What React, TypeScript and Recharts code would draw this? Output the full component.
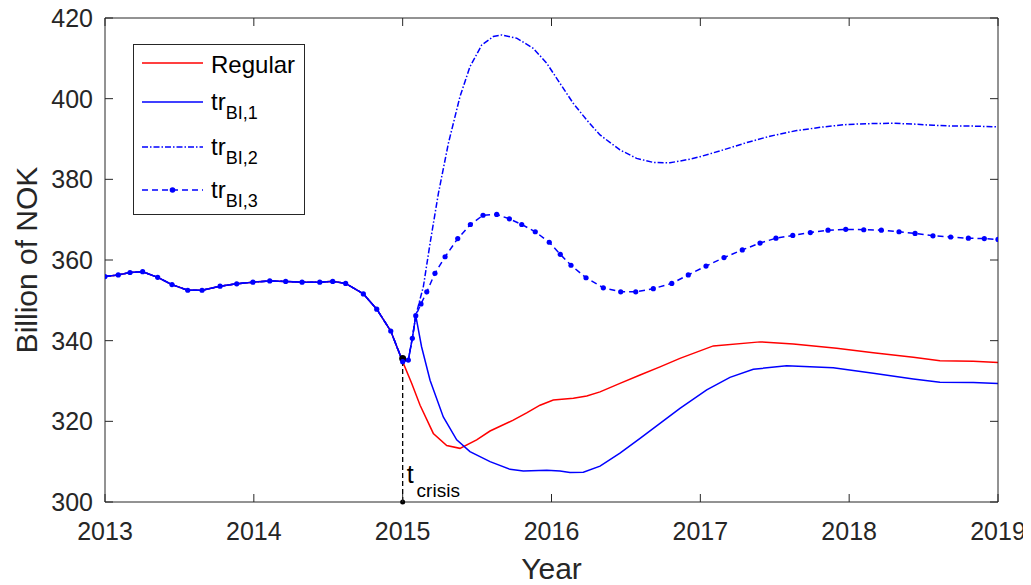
import React from 'react';
import { LineChart, Line, XAxis, YAxis, ReferenceLine, ReferenceDot, Legend } from 'recharts';

// Значения: общий участок до кризиса, затем отдельные ветки

const preYears = [2013.0, 2013.089, 2013.168, 2013.253, 2013.354, 2013.45, 2013.556, 2013.652, 2013.773, 2013.885, 2013.994, 2014.107, 2014.214, 2014.324, 2014.443, 2014.53, 2014.617, 2014.736, 2014.826, 2014.92, 2015.0];
const preValues = [355.9, 356.3, 356.9, 357.1, 355.7, 353.9, 352.5, 352.5, 353.5, 354.1, 354.5, 354.8, 354.7, 354.5, 354.5, 354.7, 354.2, 351.6, 347.8, 342.4, 334.8];

// первые шаги после кризиса, общие для трёх синих веток
const reboundYears = [2015.038, 2015.065, 2015.088];
const reboundValues = [335.2, 340.6, 346.2];

const regYears = [2015.061, 2015.117, 2015.206, 2015.296, 2015.385, 2015.497, 2015.587, 2015.743, 2015.833, 2015.923, 2016.012, 2016.147, 2016.237, 2016.326, 2016.46, 2016.595, 2016.729, 2016.863, 2017.087, 2017.401, 2017.625, 2017.916, 2018.162, 2018.431, 2018.61, 2018.834, 2019.0];
const regValues = [329.4, 324.0, 317.0, 314.0, 313.3, 315.4, 317.6, 320.3, 322.1, 324.0, 325.3, 325.7, 326.3, 327.3, 329.4, 331.5, 333.5, 335.6, 338.7, 339.7, 339.2, 338.1, 337.0, 335.9, 335.0, 334.9, 334.6];

const tr1Years = [2015.127, 2015.184, 2015.273, 2015.363, 2015.452, 2015.587, 2015.721, 2015.811, 2015.968, 2016.057, 2016.124, 2016.214, 2016.326, 2016.46, 2016.595, 2016.729, 2016.863, 2017.043, 2017.199, 2017.356, 2017.58, 2017.893, 2018.162, 2018.431, 2018.61, 2018.834, 2019.0];
const tr1Values = [338.5, 330.2, 321.1, 315.4, 312.5, 310.0, 308.1, 307.7, 307.9, 307.7, 307.3, 307.4, 308.9, 312.1, 315.8, 319.5, 323.2, 327.8, 330.9, 332.9, 333.8, 333.3, 331.9, 330.5, 329.7, 329.6, 329.4];

const tr2Years = [2015.139, 2015.184, 2015.24, 2015.307, 2015.385, 2015.452, 2015.531, 2015.609, 2015.665, 2015.766, 2015.877, 2015.968, 2016.057, 2016.147, 2016.237, 2016.326, 2016.46, 2016.572, 2016.684, 2016.796, 2016.93, 2016.997, 2017.154, 2017.311, 2017.468, 2017.648, 2017.827, 2017.983, 2018.118, 2018.297, 2018.431, 2018.566, 2018.7, 2018.834, 2019.0];
const tr2Values = [353.4, 364.1, 376.5, 388.9, 400.5, 407.9, 413.3, 415.4, 415.8, 415.0, 412.5, 408.8, 403.8, 398.8, 394.7, 391.0, 387.3, 385.2, 384.2, 384.1, 385.0, 385.6, 387.3, 389.1, 390.7, 392.1, 393.0, 393.6, 393.8, 393.9, 393.7, 393.4, 393.2, 393.2, 393.0];

const tr3Years = [2015.123, 2015.162, 2015.217, 2015.285, 2015.37, 2015.455, 2015.54, 2015.632, 2015.717, 2015.8, 2015.891, 2015.985, 2016.059, 2016.131, 2016.232, 2016.348, 2016.465, 2016.566, 2016.684, 2016.808, 2016.919, 2017.038, 2017.159, 2017.282, 2017.401, 2017.508, 2017.621, 2017.739, 2017.858, 2017.977, 2018.098, 2018.216, 2018.335, 2018.443, 2018.563, 2018.682, 2018.801, 2018.908, 2019.0];
const tr3Values = [349.1, 352.1, 356.7, 360.8, 365.3, 368.8, 371.1, 371.3, 370.2, 368.8, 367.0, 364.4, 361.4, 358.7, 355.6, 353.1, 352.1, 352.1, 352.9, 354.2, 356.3, 358.5, 360.6, 362.5, 364.2, 365.4, 366.1, 366.8, 367.4, 367.6, 367.5, 367.4, 367.0, 366.6, 366.0, 365.7, 365.4, 365.3, 365.1];

const crisisYear = 2015;
const crisisLevel = 335.6;

const xTicks = [2013, 2014, 2015, 2016, 2017, 2018, 2019];
const yTicks = [300, 320, 340, 360, 380, 400, 420];

const FONT = '"Liberation Sans", Arial, Helvetica, sans-serif';
const INK = '#262626';
const RED = '#ff0000';
const BLUE = '#0000ff';

const mk = (ts: number[], vs: number[]) => ts.map((t, i) => ({ t, v: vs[i] }));

const regularData = mk([...preYears, ...regYears], [...preValues, ...regValues]);
const tr1Data = mk([...preYears, ...reboundYears, ...tr1Years], [...preValues, ...reboundValues, ...tr1Values]);
const tr2Data = mk([...preYears, ...reboundYears, ...tr2Years], [...preValues, ...reboundValues, ...tr2Values]);
const tr3Data = mk([...preYears, ...reboundYears, ...tr3Years], [...preValues, ...reboundValues, ...tr3Values]);

// тики внутрь, как в MATLAB
const BottomTick = (p: any) => (
  <g>
    <line x1={p.x} y1={p.y} x2={p.x} y2={p.y - 8} stroke={INK} />
    <text x={p.x} y={p.y + 38} textAnchor="middle" fontSize={25} fill={INK} fontFamily={FONT}>
      {p.payload.value}
    </text>
  </g>
);
const LeftTick = (p: any) => (
  <g>
    <line x1={p.x} y1={p.y} x2={p.x + 8} y2={p.y} stroke={INK} />
    <text x={p.x - 12} y={p.y + 9} textAnchor="end" fontSize={25} fill={INK} fontFamily={FONT}>
      {p.payload.value}
    </text>
  </g>
);
const TopTick = (p: any) => <line x1={p.x} y1={p.y} x2={p.x} y2={p.y + 8} stroke={INK} />;
const RightTick = (p: any) => <line x1={p.x} y1={p.y} x2={p.x - 8} y2={p.y} stroke={INK} />;

const legendItems = [
  { name: 'Regular', sub: '', color: RED, dash: undefined as string | undefined, dot: false },
  { name: 'tr', sub: 'BI,1', color: BLUE, dash: undefined, dot: false },
  { name: 'tr', sub: 'BI,2', color: BLUE, dash: '6 2 1.5 2', dot: false },
  { name: 'tr', sub: 'BI,3', color: BLUE, dash: '6 4', dot: true },
];
const legendRows = [19, 58, 103, 146];

const LegendBox = () => (
  <svg width={172} height={171} style={{ display: 'block' }}>
    <rect x={0.5} y={0.5} width={171} height={170} fill="#fff" stroke={INK} />
    {legendItems.map((it, i) => (
      <g key={i}>
        <line x1={9} x2={70} y1={legendRows[i]} y2={legendRows[i]} stroke={it.color} strokeWidth={1.4} strokeDasharray={it.dash} />
        {it.dot && <circle cx={39.5} cy={legendRows[i]} r={2.8} fill={it.color} />}
        <text x={78} y={legendRows[i] + (it.sub ? 8 : 10)} fontSize={24} fill="#000" fontFamily={FONT}>
          {it.name}
          {it.sub && (
            <tspan fontSize={18} dy={9}>
              {it.sub}
            </tspan>
          )}
        </text>
      </g>
    ))}
  </svg>
);

const App: React.FC = () => {
  return (
    <div style={{ margin: '-8px 0 0 -8px' }}>
      <LineChart width={1031} height={585} margin={{ top: 17, right: 32, left: 0, bottom: 0 }} style={{ fontFamily: FONT }}>
        <XAxis
          dataKey="t"
          type="number"
          domain={[2013, 2019]}
          ticks={xTicks}
          interval={0}
          allowDataOverflow
          height={83}
          tickSize={0}
          tickMargin={0}
          tick={BottomTick}
          axisLine={{ stroke: INK }}
          label={(props: any) => {
            const vb = props.viewBox;
            return (
              <text x={vb.x + vb.width / 2} y={vb.y + 77} textAnchor="middle" fontSize={30} fill={INK} fontFamily={FONT}>
                Year
              </text>
            );
          }}
        />
        <XAxis
          xAxisId="top"
          orientation="top"
          dataKey="t"
          type="number"
          domain={[2013, 2019]}
          ticks={xTicks}
          interval={0}
          allowDataOverflow
          height={1}
          tickSize={0}
          tickMargin={0}
          tick={TopTick}
          axisLine={{ stroke: INK }}
        />
        <YAxis
          type="number"
          domain={[300, 420]}
          ticks={yTicks}
          interval={0}
          allowDataOverflow
          width={105}
          tickSize={0}
          tickMargin={0}
          tick={LeftTick}
          axisLine={{ stroke: INK }}
          label={(props: any) => {
            const vb = props.viewBox;
            const cy = vb.y + vb.height / 2;
            return (
              <text x={37} y={cy} transform={`rotate(-90 37 ${cy})`} textAnchor="middle" fontSize={30} fill={INK} fontFamily={FONT}>
                Billion of NOK
              </text>
            );
          }}
        />
        <YAxis
          yAxisId="right"
          orientation="right"
          type="number"
          domain={[300, 420]}
          ticks={yTicks}
          interval={0}
          allowDataOverflow
          width={1}
          tickSize={0}
          tickMargin={0}
          tick={RightTick}
          axisLine={{ stroke: INK }}
        />
        <Legend
          layout="vertical"
          align="center"
          verticalAlign="middle"
          content={() => <LegendBox />}
          wrapperStyle={{ left: 133, top: 44, width: 172, height: 171 }}
        />
        <Line data={regularData} dataKey="v" name="Regular" stroke={RED} strokeWidth={1.5} dot={false} isAnimationActive={false} />
        <Line data={tr1Data} dataKey="v" name="trBI,1" stroke={BLUE} strokeWidth={1.5} dot={false} isAnimationActive={false} />
        <Line data={tr2Data} dataKey="v" name="trBI,2" stroke={BLUE} strokeWidth={1.5} strokeDasharray="6 2 1.5 2" dot={false} isAnimationActive={false} />
        <Line
          data={tr3Data}
          dataKey="v"
          name="trBI,3"
          stroke={BLUE}
          strokeWidth={1.5}
          strokeDasharray="6 4"
          dot={{ r: 2.6, fill: BLUE, stroke: BLUE, strokeWidth: 0 }}
          isAnimationActive={false}
        />
        <ReferenceLine
          segment={[
            { x: crisisYear, y: 300 },
            { x: crisisYear, y: crisisLevel },
          ]}
          stroke="#000"
          strokeWidth={1.3}
          strokeDasharray="5 3"
        />
        <ReferenceDot x={crisisYear} y={crisisLevel} r={3.5} fill="#000" stroke="none" />
        <ReferenceDot
          x={crisisYear}
          y={300}
          r={2.5}
          fill="#000"
          stroke="none"
          label={(props: any) => {
            const vb = props.viewBox;
            const cx = vb.x + vb.width / 2;
            const cy = vb.y + vb.height / 2;
            return (
              <text x={cx + 4} y={cy - 19} fontSize={25} fill="#000" fontFamily={FONT}>
                t
                <tspan fontSize={19} dx={3} dy={14}>
                  crisis
                </tspan>
              </text>
            );
          }}
        />
      </LineChart>
    </div>
  );
};

export default App;
